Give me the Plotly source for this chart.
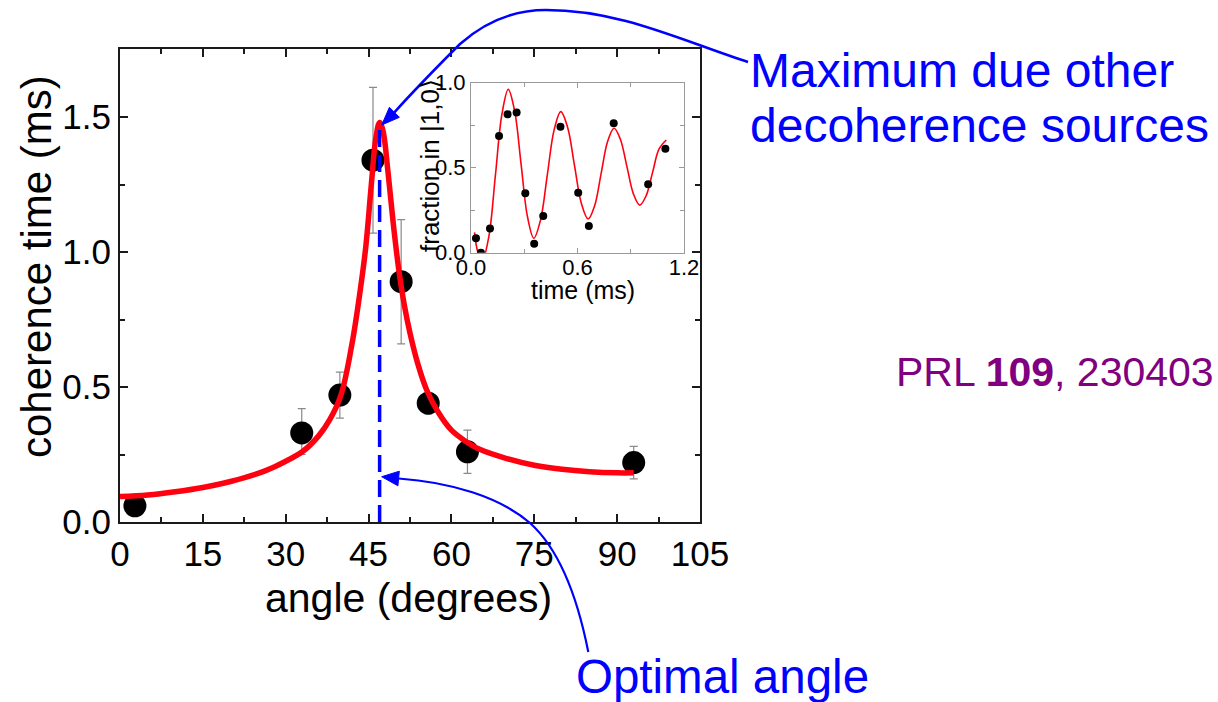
import plotly.graph_objects as go

W, H = 1218, 702

# ---------------- data ----------------
# main plot: coherence time vs angle
main_angle = [2.7, 32.9, 39.8, 45.8, 50.9, 55.8, 62.9, 93.0]
main_tc = [0.06, 0.33, 0.47, 1.34, 0.89, 0.44, 0.26, 0.22]
err_up = [0.0, 0.09, 0.085, 0.27, 0.23, 0.03, 0.08, 0.06]
err_down = [0.0, 0.08, 0.085, 0.27, 0.23, 0.04, 0.08, 0.06]

fit_angle = [0, 5, 10, 15, 20, 25, 28, 30, 33, 36, 38, 40, 42, 43.5, 44.5, 45.5,
             46.3, 47.0, 47.6, 48.5, 49.5, 50.5, 51.5, 52.5, 54, 55.5, 57.5, 60,
             62.5, 65, 70, 75, 80, 85, 90, 93]
fit_tc = [0.094, 0.100, 0.112, 0.128, 0.150, 0.180, 0.205, 0.225, 0.260, 0.320,
          0.380, 0.470, 0.660, 0.860, 1.020, 1.250, 1.420, 1.480, 1.450, 1.300,
          1.100, 0.930, 0.800, 0.700, 0.580, 0.490, 0.410, 0.340, 0.300, 0.270,
          0.235, 0.210, 0.195, 0.186, 0.182, 0.182]

optimal_angle = 47.0
peak_tc = 1.48

# inset: fraction in |1,0> vs time
inset_time = [0.028, 0.056, 0.107, 0.158, 0.206, 0.257, 0.306, 0.356, 0.407,
              0.504, 0.604, 0.664, 0.804, 0.998, 1.095]
inset_frac = [0.085, 0.0, 0.143, 0.686, 0.814, 0.824, 0.349, 0.053, 0.216,
              0.741, 0.353, 0.157, 0.761, 0.402, 0.612]

inset_fit_t = [0.02, 0.04, 0.065, 0.101, 0.1375, 0.174, 0.21, 0.246, 0.282, 0.318,
               0.354, 0.392, 0.43, 0.468, 0.506, 0.5445, 0.583, 0.6215, 0.66,
               0.6965, 0.733, 0.7695, 0.806, 0.842, 0.8785, 0.915, 0.951, 0.987,
               1.023, 1.059, 1.10]
inset_fit_f = [0.12, 0.0, -0.04, 0.098, 0.4555, 0.813, 0.961, 0.833, 0.523, 0.213,
               0.085, 0.194, 0.4575, 0.721, 0.83, 0.737, 0.514, 0.291, 0.198,
               0.276, 0.465, 0.654, 0.732, 0.666, 0.506, 0.346, 0.28, 0.336,
               0.4725, 0.609, 0.663]

FONT = "Liberation Sans, Arial, Helvetica, sans-serif"
BLUE = "#0000ff"


def px(x):
    return x / W


def py(y):
    return 1 - y / H


fig = go.Figure()

# main data with error bars
fig.add_trace(go.Scatter(
    x=main_angle, y=main_tc, mode="markers",
    marker=dict(color="black", size=23),
    error_y=dict(type="data", symmetric=False, array=err_up, arrayminus=err_down,
                 color="#8a8a8a", thickness=1.2, width=4),
    xaxis="x", yaxis="y", showlegend=False))

fig.add_trace(go.Scatter(
    x=fit_angle, y=fit_tc, mode="lines", line=dict(color="#ff0010", width=5.5, shape="spline"),
    xaxis="x", yaxis="y", showlegend=False))

fig.add_trace(go.Scatter(
    x=[optimal_angle, optimal_angle], y=[0, peak_tc], mode="lines",
    line=dict(color=BLUE, width=3.5, dash="17px,8px"),
    xaxis="x", yaxis="y", showlegend=False))

# inset
fig.add_trace(go.Scatter(
    x=inset_fit_t, y=inset_fit_f, mode="lines",
    line=dict(color="#ff0010", width=1.6, shape="spline"),
    xaxis="x2", yaxis="y2", showlegend=False))
fig.add_trace(go.Scatter(
    x=inset_time, y=inset_frac, mode="markers",
    marker=dict(color="black", size=8),
    xaxis="x2", yaxis="y2", showlegend=False))

main_ax = dict(showline=True, linecolor="#1a1a1a", linewidth=2, mirror="allticks",
               ticks="inside", ticklen=8, tickwidth=1.5, tickcolor="#1a1a1a",
               showgrid=False, zeroline=False, automargin=False,
               tickfont=dict(family=FONT, size=35, color="black"))
inset_ax = dict(showline=True, linecolor="#9a9a9a", linewidth=1, mirror="allticks",
                ticks="inside", ticklen=5, tickwidth=1, tickcolor="#9a9a9a",
                showgrid=False, zeroline=False, automargin=False,
                tickfont=dict(family=FONT, size=22, color="black"))

fig.update_layout(
    template="none",
    width=W, height=H, autosize=False,
    margin=dict(l=0, r=0, t=0, b=0, pad=0, autoexpand=False),
    paper_bgcolor="white", plot_bgcolor="white",
    xaxis=dict(**main_ax, domain=[px(120), px(700)], range=[0, 105], dtick=15, tick0=0,
               minor=dict(dtick=7.5, ticks="inside", ticklen=5, tickcolor="#1a1a1a", tickwidth=1.5),
               anchor="y"),
    yaxis=dict(**main_ax, domain=[py(522), py(49)], range=[0, 1.752], dtick=0.5, tick0=0,
               tickformat=".1f",
               minor=dict(dtick=0.25, ticks="inside", ticklen=5, tickcolor="#1a1a1a", tickwidth=1.5),
               anchor="x"),
    xaxis2=dict(**inset_ax, domain=[px(471), px(684)], range=[0, 1.2], dtick=0.6, tick0=0,
                tickformat=".1f", ticklabelstandoff=-5,
                minor=dict(dtick=0.3, ticks="inside", ticklen=4, tickcolor="#9a9a9a"),
                anchor="y2"),
    yaxis2=dict(**inset_ax, domain=[py(252.7), py(82.7)], range=[0, 1.0], dtick=0.5, tick0=0,
                tickformat=".1f",
                minor=dict(dtick=0.25, ticks="inside", ticklen=4, tickcolor="#9a9a9a"),
                anchor="x2"),
)


def ann(text, x, y, size, color="black", xanchor="center", yanchor="middle", angle=0):
    fig.add_annotation(text=text, x=px(x), y=py(y), xref="paper", yref="paper",
                       xanchor=xanchor, yanchor=yanchor, showarrow=False, textangle=angle,
                       font=dict(family=FONT, size=size, color=color))


# axis titles
ann("angle (degrees)", 408, 598, 41)
ann("coherence time (ms)", 36, 267, 42, angle=-90)
ann("time (ms)", 583, 290, 25)
ann("fraction in |1,0⟩", 430, 166, 26, angle=-90)

# annotations text
ann("Maximum due other", 748, 70, 48, color=BLUE, xanchor="left")
ann("decoherence sources", 748, 125, 48, color=BLUE, xanchor="left")
ann("Optimal angle", 574, 676, 47.5, color=BLUE, xanchor="left")
ann("PRL <b>109</b>, 230403", 894, 372, 41, color="#800080", xanchor="left")


def P(x, y):
    return f"{px(x):.5f},{py(y):.5f}"


# top curved arrow
top_path = ("M " + P(748, 62) + " C " + P(680, 40) + " " + P(620, 10) + " " + P(546, 10)
            + " C " + P(515, 10) + " " + P(485, 22) + " " + P(460, 44)
            + " C " + P(440, 64) + " " + P(410, 95) + " " + P(394.4, 112.3))
fig.add_shape(type="path", path=top_path, xref="paper", yref="paper",
              line=dict(color=BLUE, width=2.5))
fig.add_shape(type="path", xref="paper", yref="paper",
              path="M " + P(381.7, 125) + " L " + P(399.4, 117.3) + " L " + P(389.4, 107.3) + " Z",
              line=dict(color=BLUE, width=1), fillcolor=BLUE)

# bottom curved arrow
bot_path = ("M " + P(588.3, 652) + " C " + P(578, 600) + " " + P(560, 550) + " " + P(530, 523)
            + " C " + P(500, 497) + " " + P(450, 482) + " " + P(398.6, 478.5))
fig.add_shape(type="path", path=bot_path, xref="paper", yref="paper",
              line=dict(color=BLUE, width=2.2))
fig.add_shape(type="path", xref="paper", yref="paper",
              path="M " + P(381.7, 476.7) + " L " + P(399.3, 471.2) + " L " + P(397.9, 485.8) + " Z",
              line=dict(color=BLUE, width=1), fillcolor=BLUE)

fig.write_html("out.html")
